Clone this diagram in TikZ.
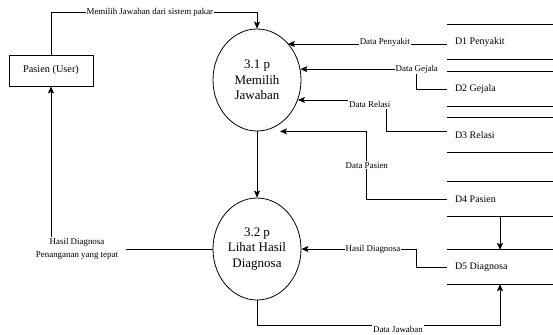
\documentclass[tikz,border=0pt]{standalone}
\usepackage{fontspec}
\setmainfont{Liberation Serif}
\usetikzlibrary{shapes.geometric,arrows.meta}

\begin{document}
\begin{tikzpicture}[
        x=1pt, y=-1pt,
        proses/.style={ellipse, draw, line width=0.8pt, minimum width=88pt, minimum height=102pt, inner sep=0pt, align=flush center, font=\fontsize{13}{15.5}\selectfont},
        entitas/.style={draw, line width=0.8pt, minimum width=84pt, minimum height=31pt, font=\fontsize{10.3}{12}\selectfont},
        simpan/.style={text width=90pt, inner xsep=8pt, minimum height=34pt, align=flush left, font=\fontsize{10}{12}\selectfont},
        alur/.style={line width=0.8pt, -{Stealth[length=7pt, width=6pt, inset=1.5pt]}},
        ket/.style={fill=white, inner sep=1pt, font=\fontsize{8.9}{13}\selectfont}
    ]
        \useasboundingbox (0,0) rectangle (553,334);

        % Entitas dan proses
        \node[entitas] (pasien) at (51,70.5) {Pasien (User)};
        \node[proses] (p31) at (257,80) {3.1 p\\Memilih\\Jawaban};
        \node[proses] (p32) at (257,249) {3.2 p\\Lihat Hasil\\Diagnosa};

        % Data store
        \node[simpan] (d1) at (500,42) {D1 Penyakit};
        \node[simpan] (d2) at (500,89) {D2 Gejala};
        \node[simpan] (d3) at (500,135) {D3 Relasi};
        \node[simpan] (d4) at (500,199) {D4 Pasien};
        \node[simpan] (d5) at (500,267) {D5 Diagnosa};
        \foreach \n in {d1,d2,d3,d4,d5}
            \draw[line width=0.8pt] (\n.north west) -- (\n.north east) (\n.south west) -- (\n.south east);

        % Aliran data
        \draw[alur] (pasien.north) -- ++(0,-42) -| node[ket, pos=0.24]{Memilih Jawaban dari sistem pakar} (p31.north);
        \draw[alur] (p31) -- (p32);
        \draw[alur] ([yshift=-2pt]d1.west) -- node[ket, pos=0.39, yshift=2pt]{Data Penyakit} ([yshift=-2pt]d1.west -| p31.50);
        \draw[alur] (d2.west) -- ++(-30,0) |- node[ket, pos=0.5]{Data Gejala} (p31.14);
        \draw[alur] ([yshift=4pt]d3.west) -- ++(-60,0) |- node[ket, pos=0.5, anchor=north east, xshift=5pt]{Data Relasi} (p31.-26);
        \draw[alur] (d4.west) -- ++(-80,0) |- node[ket, pos=0.25]{Data Pasien} ([xshift=23pt]p31.south);
        \draw[alur] (d4.south) -- (d5.north);
        \draw[alur] (d5.west) -- ++(-30,0) |- node[ket, pos=0.69]{Hasil Diagnosa} (p32.east);
        \draw[alur] (p32.west) -| node[ket, pos=0.5, xshift=26pt, inner xsep=8pt, align=flush center]{Hasil Diagnosa\\Penanganan yang tepat} (pasien.south);
        \draw[alur] (p32.south) -- ++(0,25) -| node[ket, pos=0.29, yshift=-4pt]{Data Jawaban} (d5.south);
    \end{tikzpicture}
\end{document}
